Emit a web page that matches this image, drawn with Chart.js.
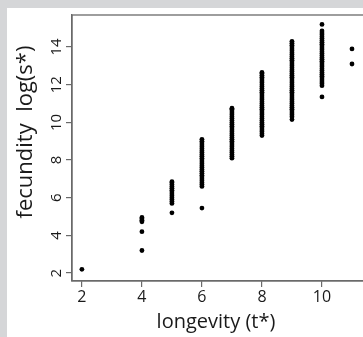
<!DOCTYPE html>
<html><head><meta charset="utf-8">
<script src="https://cdn.jsdelivr.net/npm/chart.js@4/dist/chart.umd.min.js"></script>
<style>
html,body{margin:0;padding:0;width:363px;height:337px;overflow:hidden;background:#d5d6d8;}
#panel{position:absolute;left:7px;top:8px;right:0;bottom:0;background:#fff;}
#c{position:absolute;left:0;top:0;}
</style></head><body>
<div id="panel"></div>
<canvas id="c" width="380" height="337"></canvas>
<script>
// Data: longevity (t*) columns and their fecundity log(s*) values
const longevity = [2, 4, 5, 6, 7, 8, 9, 10, 11];
const fec2  = [2.2];
const fec4  = [3.2, 4.2, 4.72, 4.8, 4.88, 4.95];
const fec5  = [5.2, 5.7, 5.8, 5.9, 6.0, 6.1, 6.2, 6.3, 6.4, 6.5, 6.6, 6.7, 6.8, 6.85];
const fec6  = [5.45, 6.6, 6.7, 6.8, 6.9, 7.0, 7.1, 7.2, 7.3, 7.4, 7.5, 7.6, 7.7, 7.8, 7.9, 8.0, 8.1, 8.2, 8.3, 8.4, 8.5, 8.6, 8.7, 8.8, 8.9, 9.0, 9.1];
const fec7  = [8.1, 8.2, 8.3, 8.4, 8.5, 8.6, 8.7, 8.8, 8.9, 9.0, 9.1, 9.2, 9.3, 9.4, 9.5, 9.6, 9.7, 9.8, 9.9, 10.0, 10.1, 10.2, 10.3, 10.4, 10.5, 10.6, 10.7, 10.75];
const fec8  = [9.3, 9.4, 9.5, 9.6, 9.7, 9.8, 9.9, 10.0, 10.1, 10.2, 10.3, 10.4, 10.5, 10.6, 10.7, 10.8, 10.9, 11.0, 11.1, 11.2, 11.3, 11.4, 11.5, 11.6, 11.7, 11.8, 11.9, 12.0, 12.1, 12.2, 12.3, 12.4, 12.5, 12.6, 12.65];
const fec9  = [10.15, 10.3, 10.4, 10.5, 10.6, 10.7, 10.8, 10.9, 11.0, 11.1, 11.2, 11.3, 11.4, 11.5, 11.6, 11.7, 11.8, 11.9, 12.0, 12.1, 12.2, 12.3, 12.4, 12.5, 12.6, 12.7, 12.8, 12.9, 13.0, 13.1, 13.2, 13.3, 13.4, 13.5, 13.6, 13.7, 13.8, 13.9, 14.0, 14.1, 14.2, 14.3];
const fec10 = [11.35, 11.95, 12.05, 12.15, 12.25, 12.35, 12.45, 12.55, 12.65, 12.75, 12.85, 12.95, 13.05, 13.15, 13.25, 13.35, 13.45, 13.55, 13.65, 13.75, 13.85, 13.95, 14.05, 14.15, 14.25, 14.35, 14.45, 14.55, 14.65, 14.75, 14.85, 15.2];
const fec11 = [13.1, 13.9];
const fecundity = [fec2, fec4, fec5, fec6, fec7, fec8, fec9, fec10, fec11];
const xTicks = [2, 4, 6, 8, 10];
const yTicks = [2, 4, 6, 8, 10, 12, 14];
const xTitle = 'longevity (t*)';
const yTitle = 'fecundity  log(s*)';

const points = [];
longevity.forEach((t, i) => fecundity[i].forEach(s => points.push({x: t, y: s})));

const FONT = '"Open Sans", "DejaVu Sans", sans-serif';
const AX = '#6a6a6a';
const TXT = '#1a1a1a';

const customDraw = {
  id: 'customDraw',
  afterDraw(chart) {
    const ctx = chart.ctx, a = chart.chartArea;
    const ys = chart.scales.y;
    ctx.save();
    ctx.strokeStyle = AX; ctx.lineWidth = 1.3;
    ctx.strokeRect(a.left, a.top, a.right - a.left, a.bottom - a.top);
    ctx.fillStyle = TXT;
    ctx.font = '15px ' + FONT;
    ctx.textAlign = 'center'; ctx.textBaseline = 'middle';
    ys.ticks.forEach(t => {
      const py = ys.getPixelForValue(t.value);
      ctx.save(); ctx.translate(57, py); ctx.rotate(-Math.PI / 2);
      ctx.fillText(String(t.value), 0, 0); ctx.restore();
    });
    ctx.font = '20px ' + FONT;
    ctx.fillText(xTitle, 216, 322);
    ctx.font = '22px ' + FONT;
    ctx.save(); ctx.translate(26, 132); ctx.rotate(-Math.PI / 2);
    ctx.fillText(yTitle, 0, 0); ctx.restore();
    ctx.restore();
  }
};

new Chart(document.getElementById('c'), {
  type: 'scatter',
  data: { datasets: [{ data: points, backgroundColor: '#000', borderWidth: 0, pointRadius: 2.4, pointHoverRadius: 2.4 }] },
  options: {
    responsive: false, animation: false, devicePixelRatio: 1,
    layout: { padding: { top: 15, right: 10, left: 0, bottom: 0 } },
    plugins: { legend: { display: false }, tooltip: { enabled: false } },
    scales: {
      x: {
        type: 'linear', min: 1.67, max: 11.6,
        afterBuildTicks: s => { s.ticks = xTicks.map(v => ({ value: v })); },
        afterFit: s => { s.height = 56; },
        grid: { drawOnChartArea: false, drawTicks: true, tickLength: 6, color: AX, lineWidth: 1.2 },
        border: { display: true, color: AX, width: 1.3 },
        ticks: { color: TXT, font: { family: FONT, size: 16 }, padding: 1, maxRotation: 0, autoSkip: false }
      },
      y: {
        type: 'linear', min: 1.58, max: 15.7,
        afterBuildTicks: s => { s.ticks = yTicks.map(v => ({ value: v })); },
        afterFit: s => { s.width = 72; },
        grid: { drawOnChartArea: false, drawTicks: true, tickLength: 6, color: AX, lineWidth: 1.2 },
        border: { display: true, color: AX, width: 1.3 },
        ticks: { display: false }
      }
    }
  },
  plugins: [customDraw]
});
</script>
</body></html>
